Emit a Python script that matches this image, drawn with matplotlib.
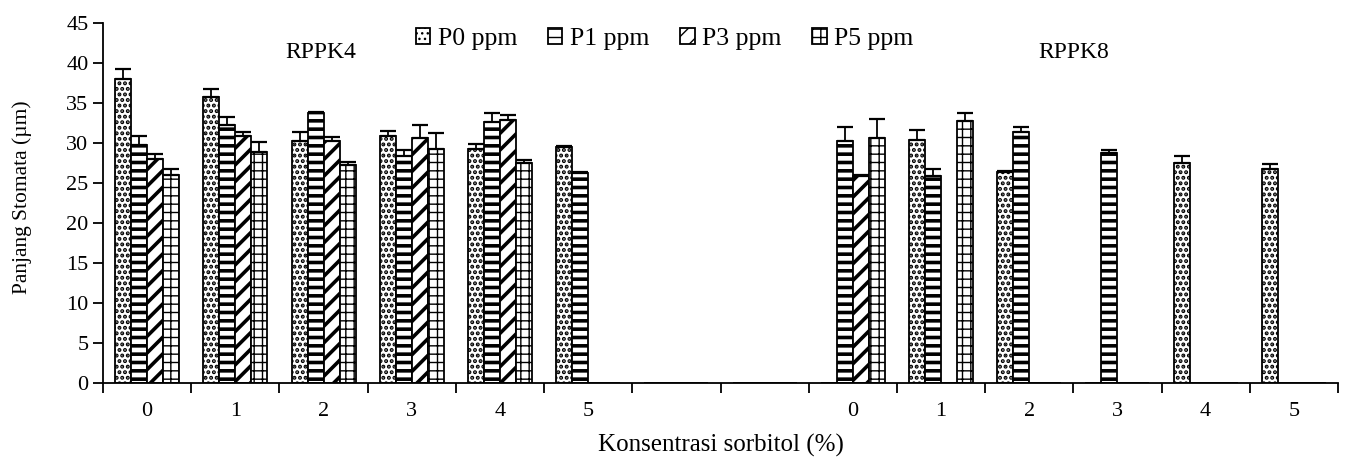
import numpy as np
import matplotlib
matplotlib.use("Agg")
import matplotlib.pyplot as plt

plt.rcParams['font.family'] = ['Liberation Serif', 'DejaVu Serif']

# -------------------------------
# Data
# -------------------------------
categories = ["0", "1", "2", "3", "4", "5", "", "", "0", "1", "2", "3", "4", "5"]
nan = np.nan

p0 = [38.0, 35.8, 30.2, 30.9, 29.2, 29.5, nan, nan, nan, 30.4, 26.4, nan, 27.5, 26.7]
p1 = [29.7, 32.3, 33.8, 28.4, 32.6, 26.3, nan, nan, 30.3, 25.9, 31.4, 28.7, nan, nan]
p3 = [28.0, 30.9, 30.2, 30.6, 32.9, nan, nan, nan, 25.9, nan, nan, nan, nan, nan]
p5 = [26.0, 28.9, 27.25, 29.3, 27.5, nan, nan, nan, 30.6, 32.8, nan, nan, nan, nan]

p0_err = [1.2, 0.9, 1.2, 0.6, 0.7, 0.15, nan, nan, nan, 1.2, 0.1, nan, 0.9, 0.7]
p1_err = [1.2, 1.0, 0.1, 0.7, 1.2, 0.1, nan, nan, 1.7, 0.9, 0.6, 0.4, nan, nan]
p3_err = [0.6, 0.45, 0.6, 1.7, 0.6, nan, nan, nan, 0.1, nan, nan, nan, nan, nan]
p5_err = [0.7, 1.2, 0.4, 2.0, 0.4, nan, nan, nan, 2.4, 0.9, nan, nan, nan, nan]

series_names = ["P0 ppm", "P1 ppm", "P3 ppm", "P5 ppm"]
group_labels = ["RPPK4", "RPPK8"]

# -------------------------------
# Plot
# -------------------------------
fig = plt.figure(figsize=(13.46, 4.59), dpi=100)
ax = fig.add_axes([103 / 1346, 1 - 383 / 459, 1235 / 1346, 360 / 459])

x = np.arange(len(categories))
w = 0.1814
styles = [
    dict(hatch="...", hlw=2.0),
    dict(hatch="--", hlw=2.6),
    dict(hatch="//", hlw=2.6),
    dict(hatch="++", hlw=1.0),
]
values = [p0, p1, p3, p5]
errors = [p0_err, p1_err, p3_err, p5_err]

for i, (vals, errs, st) in enumerate(zip(values, errors, styles)):
    vals = np.array(vals, dtype=float)
    errs = np.array(errs, dtype=float)
    pos = x + (i - 1.5) * w
    with plt.rc_context({'hatch.linewidth': st["hlw"], 'hatch.color': 'black'}):
        bars = ax.bar(pos, np.nan_to_num(vals), width=w, color="white",
                      edgecolor="black", linewidth=1.3, hatch=st["hatch"],
                      label=series_names[i], zorder=2)
        for b in bars:
            if hasattr(b, "set_hatch_linewidth"):
                b.set_hatch_linewidth(st["hlw"])
    m = ~np.isnan(vals)
    ax.errorbar(pos[m], vals[m], yerr=[np.zeros(m.sum()), errs[m]],
                fmt="none", ecolor="black", elinewidth=1.3, capsize=6,
                capthick=1.6, zorder=3)

ax.set_xlim(-0.5, len(categories) - 0.5)
ax.set_ylim(0, 45)
ax.set_yticks(np.arange(0, 46, 5))
ax.set_xticks(x)
ax.set_xticklabels(categories)
ax.set_xticks(np.arange(-0.5, len(categories) + 0.5, 1), minor=True)
ax.tick_params(axis="x", which="major", length=0, pad=14, labelsize=16)
ax.tick_params(axis="x", which="minor", length=7, width=1.3, direction="out")
ax.tick_params(axis="y", length=7, width=1.3, direction="out", labelsize=16)
for s in ["top", "right"]:
    ax.spines[s].set_visible(False)
for s in ["left", "bottom"]:
    ax.spines[s].set_linewidth(1.3)

fig.text(0.5 * (103 + 1338) / 1346, 1 - 445 / 459, "Konsentrasi sorbitol (%)",
         fontsize=18, ha="center", va="center")
fig.text(22 / 1346, 1 - 197 / 459, "Panjang Stomata (\u00b5m)",
         fontsize=15.5, ha="center", va="center", rotation=90)

ax.text(1.97, 41.3, group_labels[0], fontsize=17, ha="center", va="center")
ax.text(10.5, 41.3, group_labels[1], fontsize=17, ha="center", va="center")

leg = ax.legend(loc="center", bbox_to_anchor=(0.455, 0.955), ncol=4,
                frameon=False, fontsize=18.5, handlelength=0.55, handleheight=0.55,
                handletextpad=0.3, columnspacing=1.2)

fig.savefig("out.png", dpi=100)
